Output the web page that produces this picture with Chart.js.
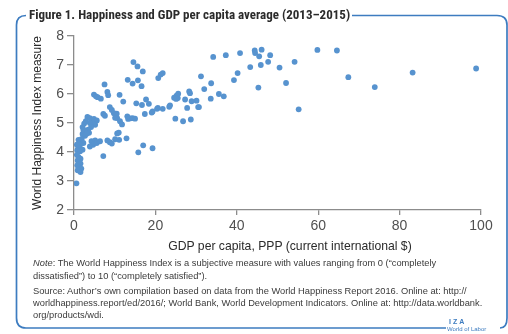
<!DOCTYPE html>
<html>
<head>
<meta charset="utf-8">
<script src="https://cdn.jsdelivr.net/npm/chart.js@4/dist/chart.umd.min.js"></script>
<style>
  html, body { margin: 0; padding: 0; background: #fff; }
  #wrap { position: relative; width: 508px; height: 334px; overflow: hidden; font-family: 'Liberation Sans', Arial, sans-serif; }
  #chart { position: absolute; left: 0; top: 0; }
  #frame { position: absolute; left: 0; top: 0; }
  .txt { position: absolute; white-space: nowrap; color: #333; }
  #title { left: 29px; top: 7px; font-size: 13px; color: #2b2b2b; font-family: 'Liberation Sans Narrow', 'Roboto Condensed', 'Liberation Sans', sans-serif; font-weight: bold; }
  #xtitle { left: 290px; top: 239px; transform: translateX(-50%); font-size: 12.2px; color: #2a2a2a; }
  .note { left: 33px; font-size: 9.3px; line-height: 12px; color: #3a3a3a; }
  #iza { left: 449px; top: 318px; font-size: 7px; font-weight: bold; color: #3d7cc0; letter-spacing: 2px; }
  #izasub { left: 447px; top: 326px; font-size: 6px; color: #3d7cc0; }
</style>
</head>
<body>
<div id="wrap">
  <canvas id="chart" width="508" height="334"></canvas>
  <svg id="frame" width="508" height="334">
    <path d="M26 15.5 Q16.5 15.5 16.5 25 L16.5 318 Q16.5 328 26 328 L446 328" fill="none" stroke="#3d7cc0" stroke-width="1.7"/>
    <path d="M352 15.5 L497 15.5 Q507 15.5 507 25 L507 318 Q507 328 500 328" fill="none" stroke="#3d7cc0" stroke-width="1.7"/>
  </svg>
  <div class="txt" id="title">Figure 1. Happiness and GDP per capita average (2013–2015)</div>
  <div class="txt" id="xtitle">GDP per capita, PPP (current international $)</div>
  <div class="txt note" style="top:257px"><i>Note</i>: The World Happiness Index is a subjective measure with values ranging from 0 (“completely</div>
  <div class="txt note" style="top:270px">dissatisfied”) to 10 (“completely satisfied”).</div>
  <div class="txt note" style="top:285px">Source: Author’s own compilation based on data from the World Happiness Report 2016. Online at: http://</div>
  <div class="txt note" style="top:297px">worldhappiness.report/ed/2016/; World Bank, World Development Indicators. Online at: http://data.worldbank.</div>
  <div class="txt note" style="top:309px">org/products/wdi.</div>
  <div class="txt" id="iza">IZA</div>
  <div class="txt" id="izasub">World of Labor</div>
</div>
<script>
// GDP per capita, PPP (thousands of current international $), 2013–2015 average
const gdpPerCapita = [
  44.4, 44.5, 46.1, 45.5, 48.2, 47.7, 45.9, 43.3, 50.5, 54.2,
  59.8, 64.6, 45.3, 52.1, 67.4, 73.9, 83.2, 98.8, 55.2, 40.8,
  37.3, 34.2, 40.2, 39.3, 31.2, 33.7, 32.0, 35.6, 36.8, 33.6,
  30.1, 30.5, 28.3, 25.6, 25.2, 24.6, 25.5, 25.1, 27.3, 23.4,
  27.8, 24.9, 26.8, 28.7, 20.7, 21.8, 21.3, 21.8, 20.6, 19.3,
  14.6, 15.6, 16.9, 13.2, 15.7, 14.4, 16.6, 11.2, 12.1, 15.3,
  16.7, 17.7, 18.4, 17.4, 19.1, 20.4, 13.1, 13.3, 13.9, 14.4,
  15.0, 10.5, 10.6, 11.3, 11.8, 10.1, 9.3, 8.8, 9.8, 10.6,
  11.0, 10.1, 11.1, 12.9, 15.8, 17.0, 19.3, 7.5, 4.9, 5.4,
  5.8, 6.6, 8.2, 8.4, 7.2, 7.6, 3.3, 3.9, 2.9, 2.5,
  2.1, 4.9, 5.6, 4.7, 5.2, 3.9, 4.2, 3.5, 3.7, 2.3,
  2.6, 2.1, 2.7, 3.1, 1.1, 1.5, 1.9, 2.3, 1.5, 0.7,
  1.1, 0.8, 1.5, 2.1, 4.3, 5.2, 4.7, 3.9, 0.7, 1.1,
  1.6, 0.9, 1.3, 1.6, 0.8, 1.3, 1.8, 0.9, 1.6, 7.2,
  5.6, 6.4, 8.2, 8.8, 9.3, 0.6, 28.5, 30.7, 23.6, 28.9
];
// World Happiness Index score for the same countries
const happinessIndex = [
  7.50, 7.41, 7.53, 7.30, 7.34, 7.11, 7.00, 6.93, 6.91, 7.11,
  7.52, 7.50, 6.22, 6.38, 6.58, 6.24, 6.74, 6.88, 5.47, 7.41,
  7.34, 7.28, 6.72, 6.48, 6.61, 6.37, 6.17, 6.00, 5.92, 5.84,
  5.77, 5.55, 6.09, 6.01, 5.94, 5.87, 5.86, 5.83, 5.81, 5.56,
  5.52, 5.15, 5.06, 5.12, 6.55, 6.72, 6.67, 5.49, 5.52, 5.40,
  7.10, 6.95, 6.78, 6.49, 6.47, 6.36, 6.27, 5.97, 5.74, 5.68,
  5.62, 5.81, 5.66, 5.31, 5.36, 5.49, 5.23, 5.14, 5.16, 5.17,
  5.15, 5.32, 5.17, 5.06, 4.95, 5.18, 5.45, 5.55, 5.34, 4.64,
  4.67, 4.44, 4.42, 4.47, 3.99, 4.23, 4.13, 6.33, 5.98, 5.92,
  5.89, 5.84, 6.07, 5.96, 5.31, 5.25, 5.21, 5.17, 5.06, 4.98,
  4.86, 5.14, 5.09, 5.02, 4.94, 5.00, 4.86, 4.77, 4.66, 4.77,
  4.71, 4.62, 4.56, 4.63, 4.42, 4.37, 4.45, 4.31, 4.25, 4.25,
  4.14, 4.06, 4.03, 4.08, 4.37, 4.40, 4.25, 4.19, 3.90, 3.83,
  3.77, 3.71, 3.66, 3.60, 3.54, 3.46, 3.43, 3.37, 3.31, 3.86,
  4.31, 4.37, 4.40, 4.34, 4.29, 2.92, 6.03, 5.55, 5.61, 5.75
];
const xTicks = [0, 20, 40, 60, 80, 100];
const yTicks = [2, 3, 4, 5, 6, 7, 8];

const points = gdpPerCapita.map((g, i) => ({ x: g, y: happinessIndex[i] }));

const axisGrey = '#8c8c8c';
const labelFont = { family: "'Liberation Sans', Arial, sans-serif", size: 14 };

new Chart(document.getElementById('chart'), {
  type: 'scatter',
  data: {
    datasets: [{
      data: points,
      backgroundColor: '#5793cf',
      borderWidth: 0,
      pointRadius: 2.9,
      pointHoverRadius: 2.9
    }]
  },
  options: {
    responsive: false,
    animation: false,
    events: [],
    layout: { padding: { left: 0, right: 27, top: 36, bottom: 78 } },
    plugins: { legend: { display: false }, tooltip: { enabled: false } },
    scales: {
      x: {
        type: 'linear',
        min: 0, max: 100,
        afterBuildTicks: s => { s.ticks = xTicks.map(v => ({ value: v })); },
        afterFit: s => { s.height = 46; },
        border: { display: true, color: axisGrey, width: 1.3 },
        grid: { drawOnChartArea: false, drawTicks: true, tickLength: 5, color: axisGrey, lineWidth: 1.3 },
        ticks: { color: '#505050', font: labelFont, padding: 3, maxRotation: 0 },
        title: { display: false }
      },
      y: {
        type: 'linear',
        min: 2, max: 8,
        afterBuildTicks: s => { s.ticks = yTicks.map(v => ({ value: v })); },
        afterFit: s => { s.width = 74; },
        border: { display: true, color: axisGrey, width: 1.3 },
        grid: { drawOnChartArea: false, drawTicks: true, tickLength: 7, color: axisGrey, lineWidth: 1.3 },
        ticks: { color: '#505050', font: labelFont, padding: 3 },
        title: { display: true, text: 'World Happiness Index measure', color: '#2a2a2a',
                 font: { family: "'Liberation Sans', Arial, sans-serif", size: 12 }, padding: { top: 30, bottom: 0 } }
      }
    }
  }
});
</script>
</body>
</html>
